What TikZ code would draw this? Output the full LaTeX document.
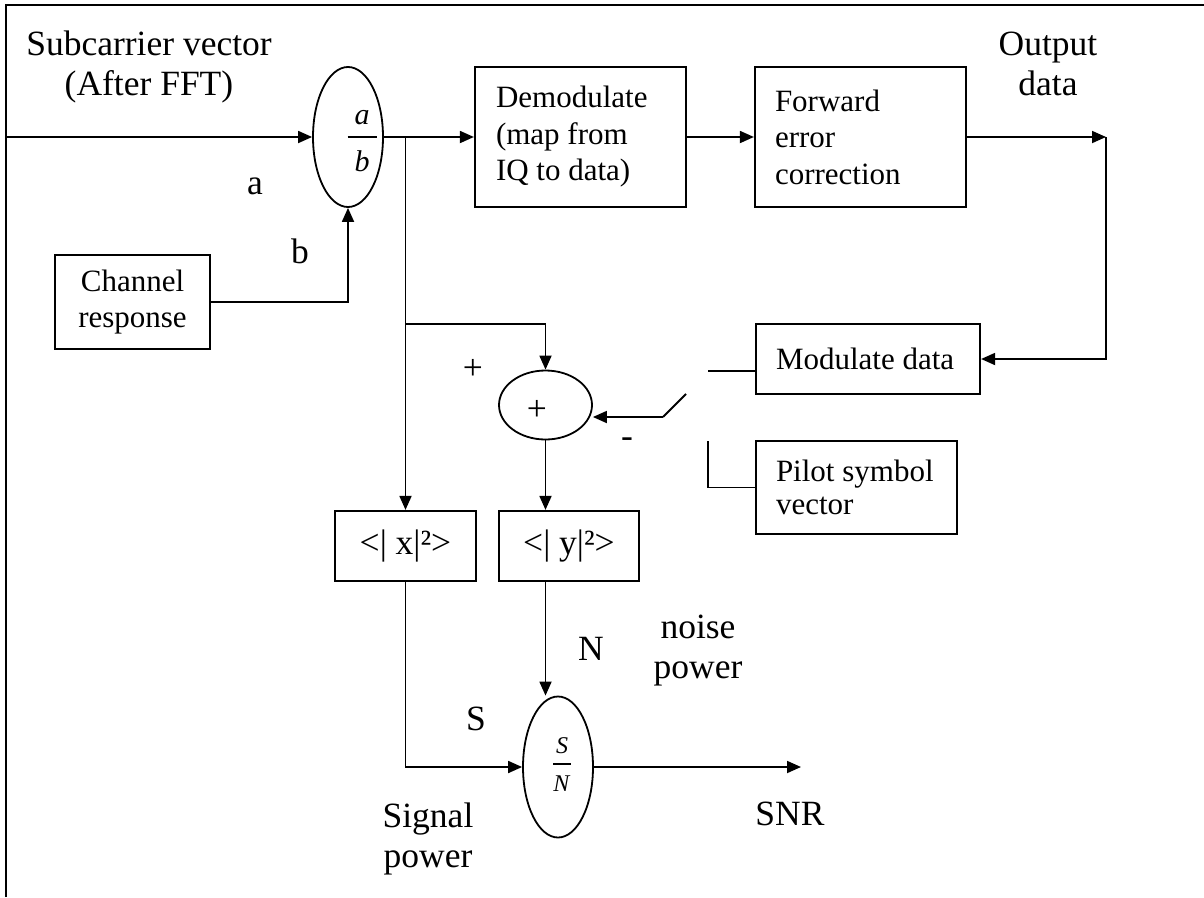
\documentclass[tikz,border=0pt]{standalone}
\usepackage{fix-cm}
\usepackage{fontspec}
\setmainfont{Liberation Serif}
\usetikzlibrary{shapes.geometric, arrows.meta, positioning, calc}
\newcommand{\lblfont}{\fontsize{35.5}{40}\selectfont}
\newcommand{\boxfont}{\fontsize{31}{36.5}\selectfont}
\tikzset{
  blockbox/.style={rectangle, draw, line width=2.2pt, inner sep=0pt, font=\boxfont},
  opnode/.style={ellipse, draw, line width=1.8pt, inner sep=0pt},
  lbl/.style={font=\lblfont, inner sep=0pt, anchor=base, align=center},
  arrow/.style={-{Triangle[length=14pt,width=12pt]}, line width=1.8pt},
  line/.style={line width=1.8pt},
  thinline/.style={line width=1.5pt}
}
\begin{document}
\begin{tikzpicture}[x=1pt, y=-1pt]
  \useasboundingbox (0,0) rectangle (1204,897);
  % frame
  \draw[line width=2.7pt] (6,897) -- (6,5) -- (1204,5);
  % operations
  \node[opnode, minimum width=70pt, minimum height=140pt] (ab) at (348,137) {};
  \node[inner sep=0pt, anchor=base, font=\fontsize{30}{36}\selectfont] (abfrac) at (362,144.5)
    {$\displaystyle{\hspace{7pt}\textit{a}\hspace{7pt}\above 1.6pt\hspace{7pt}\raisebox{-6pt}{\textit{b}}\hspace{7pt}}$};
  \node[opnode, minimum width=93pt, minimum height=69pt] (plus) at (545.5,405) {};
  \node[lbl, anchor=center] (plussign) at (537,410) {+};
  \node[opnode, minimum width=70pt, minimum height=141pt] (snr) at (558,767) {};
  \node[inner sep=0pt, anchor=base, font=\fontsize{24}{28}\selectfont] (snfrac) at (562,770)
    {$\displaystyle{\textit{S}\above 1.4pt\raisebox{-5pt}{\textit{N}}}$};
  % blocks
  \node[blockbox, minimum width=211pt, minimum height=140pt, text width=169pt, align=flush left] (demod) at (580.5,137) {Demodulate\\(map from\\IQ to data)};
  \node[blockbox, minimum width=211pt, minimum height=140pt, text width=171pt, align=flush left] (fec) at (860.5,137) {Forward\\error\\correction};
  \node[blockbox, minimum width=155pt, minimum height=94pt, align=center] (chan) at (132.5,302) {Channel\\response};
  \node[blockbox, minimum width=224pt, minimum height=70pt, text width=184pt, align=flush left] (modbox) at (868,359) {Modulate data};
  \node[blockbox, minimum width=201pt, minimum height=93pt, text width=161pt, align=flush left, font=\fontsize{31}{33}\selectfont] (pilot) at (856.5,487.5) {Pilot symbol\\vector};
  \node[blockbox, minimum width=141pt, minimum height=70pt, font=\lblfont] (xbox) at (405.5,546) {<| x|²>};
  \node[blockbox, minimum width=140pt, minimum height=70pt, font=\lblfont] (ybox) at (569,546) {<| y|²>};
  % free ends
  \coordinate (inp) at (6,137);
  \coordinate (jn) at (xbox.north |- ab.east);
  \coordinate (tap) at (xbox.north |- 0,324);
  \coordinate (outp) at (1106,137);
  \coordinate (swpivot) at (663,417);
  \coordinate (swblade) at (686,394);
  \coordinate (swmod) at (708,371);
  \coordinate (swpil) at (708,441);
  \coordinate (snrout) at (801,767);
  % signal path
  \draw[arrow] (inp) -- (ab.west);
  \draw[arrow] (ab.east) -- (demod.west);
  \draw[arrow] (demod.east) -- (fec.west);
  \draw[arrow] (fec.east) -- (outp);
  \draw[arrow] (outp) |- (modbox.east);
  \draw[arrow] (chan.east) -| (ab.south);
  \draw[arrow] (jn) -- (xbox.north);
  \draw[arrow] (tap) -| (plus.north);
  \draw[arrow] (plus.south) -- (plus.south |- ybox.north);
  \draw[arrow] (plus.south |- ybox.south) -- (plus.south |- snr.north);
  \draw[arrow] (xbox.south) |- (snr.west);
  \draw[arrow] (snr.east) -- (snrout);
  % switch
  \draw[line] (swblade) -- (swpivot);
  \draw[arrow] (swpivot) -- (swpivot -| plus.east);
  \draw[thinline] (swmod) -- (swmod -| modbox.west);
  \draw[thinline] (swpil) |- (pilot.west);
  % labels (base = last line)
  \node[lbl] (lblsub) at (149,95) {Subcarrier vector\\(After FFT)};
  \node[lbl] (lblout) at (1048,95) {Output\\data};
  \node[lbl] (lbla) at (255,194) {a};
  \node[lbl] (lblb) at (300,263) {b};
  \node[lbl, anchor=center] (lblplus) at (473,369) {+};
  \node[lbl, anchor=center] (lblminus) at (627,443) {-};
  \node[lbl, anchor=center] (lbln) at (591,649) {N};
  \node[lbl, anchor=center] (lbls) at (476,719) {S};
  \node[lbl] (lblnoise) at (698,678) {noise\\power};
  \node[lbl] (lblsig) at (428,867) {Signal\\power};
  \node[lbl] (lblsnr) at (790,825) {SNR};
\end{tikzpicture}
\end{document}
